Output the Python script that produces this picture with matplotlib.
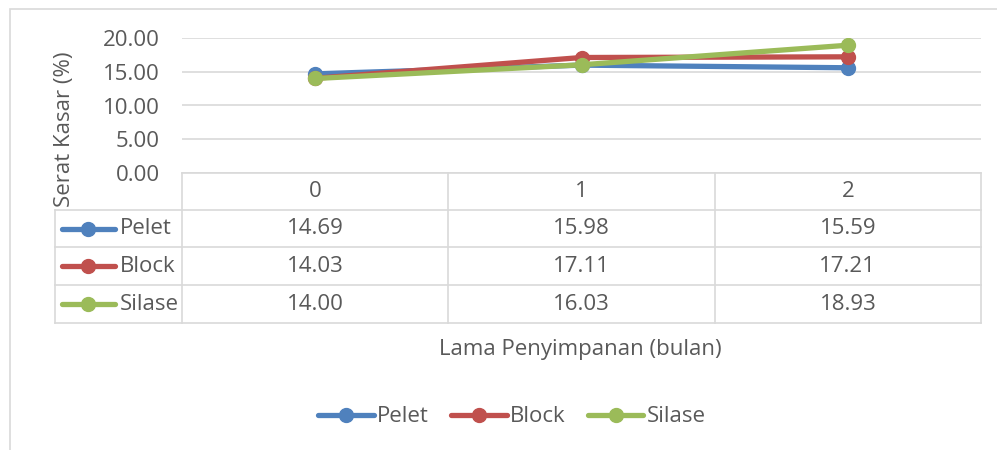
import matplotlib.pyplot as plt
from matplotlib.lines import Line2D
from matplotlib.patches import Rectangle

# data
categories = ["0", "1", "2"]
series_names = ["Pelet", "Block", "Silase"]
pelet = [14.69, 15.98, 15.59]
block = [14.03, 17.11, 17.21]
silase = [14.00, 16.03, 18.93]
y_ticks = [0, 5, 10, 15, 20]

colors = ["#4f81bd", "#c0504d", "#9bbb59"]
text_col = "#595959"
grid_col = "#d9d9d9"
fs = 16

plt.rcParams['font.family'] = ['Open Sans', 'DejaVu Sans']

W, H = 997, 450
fig = plt.figure(figsize=(W / 100, H / 100), dpi=100)


def fx(px):
    return px / W


def fy(py):
    return 1 - py / H


# outer chart border
fig.patches.append(Rectangle((fx(10), fy(460)), fx(995), fy(9) - fy(460),
                             transform=fig.transFigure, fill=False,
                             edgecolor=grid_col, lw=1.2))

# plot area
left, right, top, bottom = 182, 981, 38, 173
ax = fig.add_axes([fx(left), fy(bottom), fx(right) - fx(left), fy(top) - fy(bottom)])
x = range(len(categories))
for vals, name, c in zip([pelet, block, silase], series_names, colors):
    ax.plot(x, vals, color=c, lw=3.8, marker='o', markersize=10,
            solid_capstyle='round', label=name, zorder=3)
ax.set_xlim(-0.5, len(categories) - 0.5)
ax.set_ylim(0, 20)
ax.set_yticks(y_ticks)
ax.set_yticklabels([f"{v:.2f}" for v in y_ticks], color=text_col, fontsize=fs)
ax.set_xticks([])
ax.tick_params(axis='y', length=0, pad=16)
ax.grid(axis='y', color=grid_col, lw=1.2)
ax.set_axisbelow(True)
for s in ax.spines.values():
    s.set_visible(False)

# data table
col_edges = [left + i * (right - left) / len(categories) for i in range(len(categories) + 1)]
row_edges = [173, 210, 247, 285, 323]
key_left = 55

def hline(y, x0, x1):
    fig.add_artist(Line2D([fx(x0), fx(x1)], [fy(y), fy(y)], color=grid_col, lw=1.2,
                          transform=fig.transFigure))

def vline(xp, y0, y1):
    fig.add_artist(Line2D([fx(xp), fx(xp)], [fy(y0), fy(y1)], color=grid_col, lw=1.2,
                          transform=fig.transFigure))

hline(row_edges[0], left, right)
for y in row_edges[1:]:
    hline(y, key_left, right)
for xp in col_edges:
    vline(xp, row_edges[0], row_edges[-1])
vline(key_left, row_edges[1], row_edges[-1])

for i, cat in enumerate(categories):
    xc = (col_edges[i] + col_edges[i + 1]) / 2
    fig.text(fx(xc), fy((row_edges[0] + row_edges[1]) / 2), cat, ha='center', va='center',
             fontsize=fs, color=text_col)

for r, (vals, name, c) in enumerate(zip([pelet, block, silase], series_names, colors)):
    yc = (row_edges[r + 1] + row_edges[r + 2]) / 2
    fig.add_artist(Line2D([fx(62), fx(115)], [fy(yc), fy(yc)], color=c, lw=3.8,
                          solid_capstyle='round', transform=fig.transFigure))
    fig.add_artist(Line2D([fx(88)], [fy(yc)], color=c, marker='o', markersize=10,
                          transform=fig.transFigure))
    fig.text(fx(120), fy(yc), name, ha='left', va='center', fontsize=fs, color=text_col)
    for i, v in enumerate(vals):
        xc = (col_edges[i] + col_edges[i + 1]) / 2
        fig.text(fx(xc), fy(yc), f"{v:.2f}", ha='center', va='center',
                 fontsize=fs, color=text_col)

# axis titles
fig.text(fx(64), fy(129), "Serat Kasar (%)", rotation=90, ha='center', va='center',
         fontsize=fs, color=text_col)
fig.text(fx(580), fy(349), "Lama Penyimpanan (bulan)", ha='center', va='center',
         fontsize=fs, color=text_col)

# legend
handles, labels = ax.get_legend_handles_labels()
leg = fig.legend(handles, labels, loc='center', bbox_to_anchor=(fx(512), fy(417)),
                 ncol=3, frameon=False, fontsize=fs, handlelength=2.5,
                 handletextpad=0.15, columnspacing=1.0)
for t in leg.get_texts():
    t.set_color(text_col)

fig.savefig("out.png", dpi=100)
